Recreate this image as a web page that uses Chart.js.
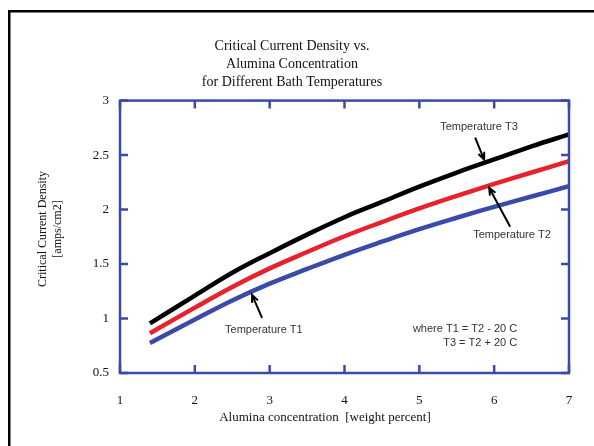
<!DOCTYPE html>
<html>
<head>
<meta charset="utf-8">
<script src="https://cdn.jsdelivr.net/npm/chart.js@4.4.0/dist/chart.umd.min.js"></script>
<style>
html, body { margin: 0; padding: 0; background: #fff; }
</style>
</head>
<body>
<canvas id="chart" width="594" height="446"></canvas>
<script>
"use strict";
// values
const alumina = [1.4, 2, 2.5, 3, 3.5, 4, 4.5, 5, 5.5, 6, 6.5, 7];
const densityT1 = [0.775, 0.99, 1.165, 1.32, 1.455, 1.585, 1.705, 1.82, 1.925, 2.025, 2.12, 2.215];
const densityT2 = [0.865, 1.10, 1.29, 1.46, 1.61, 1.755, 1.885, 2.01, 2.125, 2.235, 2.34, 2.445];
const densityT3 = [0.955, 1.21, 1.42, 1.60, 1.77, 1.93, 2.07, 2.21, 2.34, 2.46, 2.58, 2.69];
const seriesNames = ['Temperature T1', 'Temperature T2', 'Temperature T3'];
const seriesColors = ['#3a4aa8', '#e8222c', '#000000'];

const axisBlue = '#3a4aa8';
const serif = "'Liberation Serif', 'Times New Roman', serif";
const sans = "'Liberation Sans', Arial, sans-serif";

// annotation text and arrows, given in data units
const labels = [
    { text: 'Temperature T3', x: 5.278, y: 2.761, align: 'left' },
    { text: 'Temperature T2', x: 5.719, y: 1.768, align: 'left' },
    { text: 'Temperature T1', x: 2.404, y: 0.895, align: 'left' },
    { text: 'where T1 = T2 - 20 C', x: 6.307, y: 0.904, align: 'right' },
    { text: 'T3 = T2 + 20 C', x: 6.307, y: 0.776, align: 'right' },
];
const arrows = [
    { from: [5.746, 2.660], to: [5.866, 2.458] },
    { from: [6.214, 1.842], to: [5.933, 2.200] },
    { from: [2.898, 1.006], to: [2.765, 1.217] },
];

function toPoints(xs, ys) {
    let result = [];
    for (let i = 0; i < xs.length; i++) {
        result.push({ x: xs[i], y: ys[i] });
    }
    return result;
}

const frame = {
    id: 'frame',
    beforeDraw(chart) {
        const ctx = chart.ctx;
        ctx.save();
        ctx.fillStyle = '#fff';
        ctx.fillRect(0, 0, chart.width, chart.height);
        ctx.strokeStyle = '#000';
        ctx.lineWidth = 2.5;
        ctx.strokeRect(9.25, 11.25, 700, 700);
        ctx.restore();
    },
    afterDatasetsDraw(chart) {
        const ctx = chart.ctx;
        const a = chart.chartArea;
        const sx = chart.scales.x, sy = chart.scales.y;
        ctx.save();
        ctx.strokeStyle = axisBlue;
        ctx.lineWidth = 2.5;
        ctx.strokeRect(a.left, a.top, a.right - a.left, a.bottom - a.top);
        ctx.beginPath();
        sx.ticks.forEach(t => {
            const px = sx.getPixelForValue(t.value);
            ctx.moveTo(px, a.bottom); ctx.lineTo(px, a.bottom - 8);
            ctx.moveTo(px, a.top); ctx.lineTo(px, a.top + 8);
        });
        sy.ticks.forEach(t => {
            const py = sy.getPixelForValue(t.value);
            ctx.moveTo(a.left, py); ctx.lineTo(a.left + 8, py);
            ctx.moveTo(a.right, py); ctx.lineTo(a.right - 8, py);
        });
        ctx.stroke();
        ctx.restore();
    },
    afterDraw(chart) {
        const ctx = chart.ctx;
        const sx = chart.scales.x, sy = chart.scales.y;
        ctx.save();
        ctx.font = '11px ' + sans;
        ctx.fillStyle = '#333';
        ctx.textBaseline = 'middle';
        labels.forEach(l => {
            ctx.textAlign = l.align;
            ctx.fillText(l.text, sx.getPixelForValue(l.x), sy.getPixelForValue(l.y));
        });
        ctx.strokeStyle = '#000';
        ctx.lineWidth = 2;
        arrows.forEach(ar => {
            const x0 = sx.getPixelForValue(ar.from[0]), y0 = sy.getPixelForValue(ar.from[1]);
            const x1 = sx.getPixelForValue(ar.to[0]), y1 = sy.getPixelForValue(ar.to[1]);
            const ang = Math.atan2(y1 - y0, x1 - x0);
            ctx.beginPath();
            ctx.moveTo(x0, y0); ctx.lineTo(x1, y1);
            ctx.moveTo(x1 - 8 * Math.cos(ang - 0.4), y1 - 8 * Math.sin(ang - 0.4));
            ctx.lineTo(x1, y1);
            ctx.lineTo(x1 - 8 * Math.cos(ang + 0.4), y1 - 8 * Math.sin(ang + 0.4));
            ctx.stroke();
        });
        // axis titles sit off the plot centre in the reference, so they are placed by hand
        ctx.font = '13px ' + serif;
        ctx.fillStyle = '#111';
        ctx.textAlign = 'center';
        ctx.fillText('Alumina concentration  [weight percent]', 325, 418);
        ctx.font = '12px ' + serif;
        ctx.translate(43, 229);
        ctx.rotate(-Math.PI / 2);
        ctx.fillText('Critical Current Density', 0, 0);
        ctx.fillText('[amps/cm2]', 0, 15);
        ctx.restore();
    }
};

const data = {
    datasets: [densityT1, densityT2, densityT3].map((ys, i) => ({
        label: seriesNames[i],
        data: toPoints(alumina, ys),
        borderColor: seriesColors[i],
        backgroundColor: seriesColors[i],
        borderWidth: 4.5,
        pointRadius: 0,
        tension: 0.4,
        fill: false,
    }))
};

const options = {
    responsive: false,
    animation: false,
    layout: { padding: { left: 15, right: 25, top: 0, bottom: 0 } },
    plugins: {
        legend: { display: false },
        tooltip: { enabled: false },
        title: {
            display: true,
            text: ['Critical Current Density vs.', 'Alumina Concentration', 'for Different Bath Temperatures'],
            color: '#111',
            font: { family: serif, size: 14, weight: 'normal', lineHeight: 1.3 },
            padding: { top: 37, bottom: 9 }
        }
    },
    scales: {
        x: {
            type: 'linear',
            min: 1, max: 7,
            grid: { display: false, drawTicks: false },
            border: { display: false },
            ticks: { stepSize: 1, padding: 20, color: '#111', font: { family: serif, size: 13 } },
            afterFit(scale) { scale.height = 73; }
        },
        y: {
            min: 0.5, max: 3,
            grid: { display: false, drawTicks: false },
            border: { display: false },
            ticks: {
                stepSize: 0.5, padding: 11, color: '#111', font: { family: serif, size: 13 },
                callback: value => String(value)
            },
            afterFit(scale) { scale.width = 105; }
        }
    }
};

new Chart(document.getElementById('chart'), { type: 'line', data: data, options: options, plugins: [frame] });
</script>
</body>
</html>
